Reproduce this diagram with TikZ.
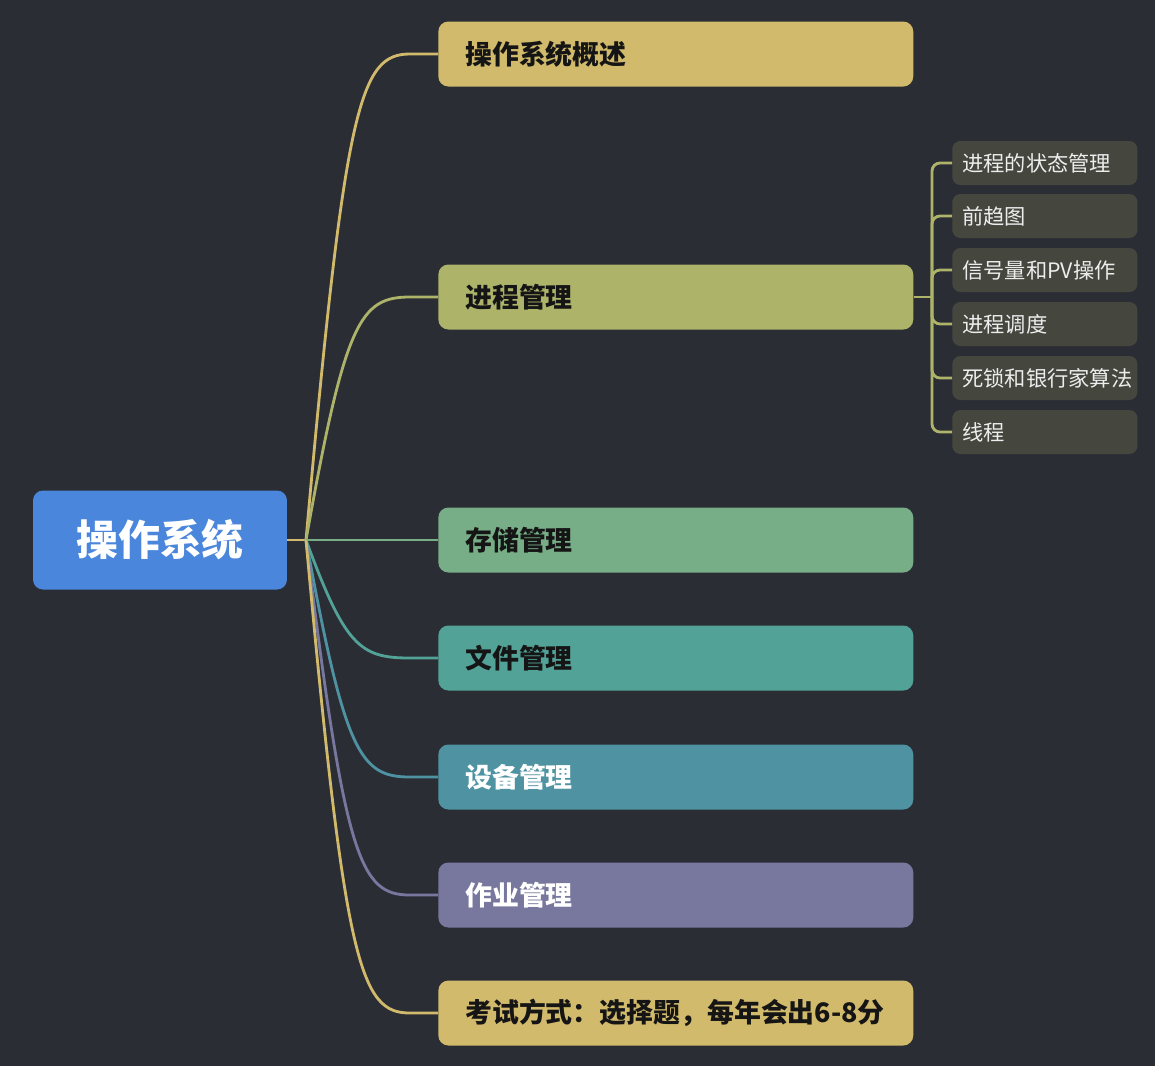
\documentclass[tikz,border=0pt]{standalone}
\usepackage{fontspec}
\setmainfont{Noto Sans CJK SC}
\usetikzlibrary{positioning,calc}
\definecolor{BgDark}{HTML}{2B2D35}
\definecolor{RootBlue}{HTML}{4A86DC}
\definecolor{Gold}{HTML}{D1BA6B}
\definecolor{Olive}{HTML}{ADB46A}
\definecolor{Sage}{HTML}{77AE87}
\definecolor{Teal}{HTML}{53A297}
\definecolor{Petrol}{HTML}{4F93A3}
\definecolor{Lilac}{HTML}{78789E}
\definecolor{SubGray}{HTML}{45473F}
\definecolor{SubText}{HTML}{EDEDED}
\definecolor{Ink}{HTML}{151515}

\tikzset{
  rootbox/.style={fill=RootBlue,rounded corners=.2cm,minimum width=5.08cm,
    minimum height=1.98cm,text=white,font=\fontsize{23.8}{28}\selectfont\bfseries},
  mainbox/.style={rounded corners=.2cm,anchor=west,minimum height=1.3cm,
    text width=8.42cm,inner xsep=.54cm,align=left,
    font=\fontsize{15.3}{18}\selectfont\bfseries},
  subbox/.style={fill=SubGray,rounded corners=.16cm,anchor=west,minimum height=.88cm,
    text width=3.3cm,inner xsep=.2cm,align=left,text=SubText,
    font=\fontsize{12.1}{14}\selectfont},
  link/.style={line width=1.6pt},
}

\begin{document}
\begin{tikzpicture}[x=.02cm,y=-.02cm]
  \fill[BgDark] (0,0) rectangle (1155,1066);
  \useasboundingbox (0,0) rectangle (1155,1066);

  % root and hub
  \node[rootbox] (root) at (160,540) {操作系统};
  \coordinate (hub) at (306,540);
  \draw[link,Gold] (root.east) -- (hub);

  % first level
  \foreach \nm/\yy/\col/\tc/\txt in {
      ov/54/Gold/Ink/操作系统概述,
      proc/297/Olive/Ink/进程管理,
      mem/540/Sage/Ink/存储管理,
      file/658/Teal/Ink/文件管理,
      dev/777/Petrol/white/设备管理,
      job/895/Lilac/white/作业管理,
      exam/1013/Gold/Ink/{考试方式：选择题，每年会出6-8分}}
  {
    \pgfmathsetmacro\cy{\yy+0.1*(540-\yy)}
    \node[mainbox,fill=\col,text=\tc] (\nm) at (438,\yy) {\txt};
    \draw[link,\col] (hub) .. controls (345,\cy) and (360,\yy) .. (410,\yy) -- (\nm.west);
  }

  % second level under proc
  \coordinate (spine) at (932,297);
  \draw[link,Olive] (proc.east) -- (spine);
  \foreach \nm/\yy/\txt in {
      st/163/进程的状态管理,
      pre/216/前趋图,
      sem/270/信号量和PV操作,
      sch/324/进程调度,
      dl/378/死锁和银行家算法,
      thr/432/线程}
  {
    \node[subbox] (\nm) at (952,\yy) {\txt};
    \draw[link,Olive,rounded corners=.16cm] (spine) |- (\nm.west);
  }
\end{tikzpicture}
\end{document}
